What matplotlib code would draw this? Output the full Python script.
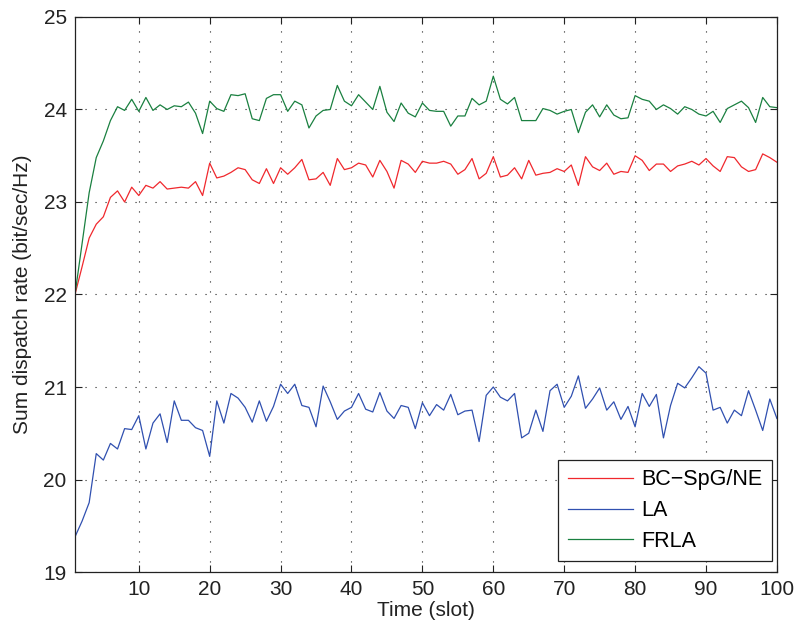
import matplotlib
matplotlib.use("Agg")
import matplotlib.pyplot as plt
import numpy as np

slots = list(range(1, 101))

bc_spg_ne = [22.00, 22.30, 22.61, 22.76, 22.84, 23.05, 23.12, 23.00, 23.16, 23.07,
             23.18, 23.15, 23.22, 23.14, 23.15, 23.16, 23.15, 23.22, 23.07, 23.42,
             23.26, 23.28, 23.32, 23.37, 23.35, 23.24, 23.20, 23.36, 23.20, 23.37,
             23.30, 23.37, 23.46, 23.24, 23.25, 23.32, 23.18, 23.47, 23.35, 23.37,
             23.42, 23.40, 23.27, 23.45, 23.33, 23.15, 23.45, 23.41, 23.32, 23.44,
             23.42, 23.42, 23.44, 23.41, 23.30, 23.35, 23.47, 23.25, 23.31, 23.49,
             23.27, 23.29, 23.37, 23.25, 23.45, 23.29, 23.31, 23.32, 23.36, 23.33,
             23.40, 23.18, 23.49, 23.38, 23.34, 23.42, 23.30, 23.33, 23.32, 23.50,
             23.45, 23.34, 23.41, 23.41, 23.33, 23.39, 23.41, 23.44, 23.40, 23.47,
             23.39, 23.33, 23.49, 23.48, 23.38, 23.33, 23.35, 23.52, 23.48, 23.43]

la = [19.38, 19.55, 19.75, 20.28, 20.21, 20.39, 20.33, 20.55, 20.54, 20.69,
      20.33, 20.61, 20.71, 20.40, 20.85, 20.64, 20.64, 20.56, 20.53, 20.25,
      20.85, 20.61, 20.93, 20.88, 20.78, 20.62, 20.85, 20.63, 20.79, 21.03,
      20.93, 21.03, 20.80, 20.78, 20.57, 21.01, 20.84, 20.65, 20.74, 20.78,
      20.93, 20.76, 20.73, 20.94, 20.74, 20.66, 20.80, 20.78, 20.55, 20.83,
      20.69, 20.81, 20.75, 20.92, 20.70, 20.74, 20.75, 20.41, 20.91, 21.00,
      20.89, 20.85, 20.93, 20.45, 20.50, 20.75, 20.52, 20.96, 21.03, 20.78,
      20.90, 21.12, 20.77, 20.87, 20.99, 20.75, 20.84, 20.65, 20.79, 20.57,
      20.93, 20.79, 20.92, 20.45, 20.80, 21.04, 20.99, 21.10, 21.22, 21.15,
      20.75, 20.78, 20.61, 20.75, 20.69, 20.96, 20.75, 20.53, 20.87, 20.66]

frla = [22.00, 22.55, 23.10, 23.48, 23.66, 23.88, 24.03, 23.99, 24.11, 23.98,
        24.13, 23.99, 24.05, 24.00, 24.04, 24.03, 24.08, 23.96, 23.74, 24.09,
        24.01, 23.98, 24.16, 24.15, 24.17, 23.90, 23.88, 24.12, 24.16, 24.16,
        23.98, 24.09, 24.05, 23.80, 23.93, 23.99, 24.00, 24.26, 24.09, 24.04,
        24.16, 24.08, 24.00, 24.25, 23.97, 23.87, 24.07, 23.96, 23.92, 24.07,
        23.99, 23.98, 23.98, 23.82, 23.93, 23.93, 24.12, 24.05, 24.09, 24.36,
        24.11, 24.06, 24.13, 23.88, 23.88, 23.88, 24.01, 23.99, 23.95, 23.98,
        24.00, 23.75, 23.97, 24.05, 23.92, 24.05, 23.94, 23.90, 23.91, 24.15,
        24.11, 24.09, 24.00, 24.05, 24.01, 23.95, 24.03, 24.00, 23.95, 23.93,
        23.98, 23.86, 24.01, 24.05, 24.09, 24.02, 23.86, 24.13, 24.03, 24.02]

labels = ["BC\u2212SpG/NE", "LA", "FRLA"]
colors = ["#f0282d", "#3050b0", "#1a8040"]

plt.rcParams['font.family'] = ['Liberation Sans', 'DejaVu Sans']
plt.rcParams['font.size'] = 15

fig = plt.figure(figsize=(7.96, 6.29), dpi=100)
ax = fig.add_axes([0.0942, 0.0906, 0.976 - 0.0942, 0.973 - 0.0906])

for ys, lab, c in zip([bc_spg_ne, la, frla], labels, colors):
    ax.plot(slots, ys, color=c, lw=0.9, label=lab)

ax.set_xlim(1, 100)
ax.set_ylim(19, 25)
ax.set_xticks(range(10, 101, 10))
ax.set_yticks(range(19, 26))
ax.grid(True, linestyle=(0, (1, 8)), color='#222222', linewidth=0.8)
ax.tick_params(direction='in', top=True, right=True, length=5, width=0.8,
               labelsize=15, colors='#222222')
ax.tick_params(axis='x', pad=6)
ax.tick_params(axis='y', pad=6)
for s in ax.spines.values():
    s.set_linewidth(0.9)
    s.set_color('#222222')
ax.set_xlabel("Time (slot)", fontsize=15, labelpad=1, color='#222222')
ax.set_ylabel("Sum dispatch rate (bit/sec/Hz)", fontsize=15, labelpad=8, color='#222222')

leg = ax.legend(loc='lower right', bbox_to_anchor=(0.993, 0.019), borderaxespad=0,
                fontsize=15.5, frameon=True, fancybox=False,
                edgecolor='#222222', framealpha=1, handlelength=3.0,
                handletextpad=0.4, labelspacing=0.45, borderpad=0.45)
leg.get_frame().set_linewidth(0.9)

fig.savefig("out.png", dpi=100)
